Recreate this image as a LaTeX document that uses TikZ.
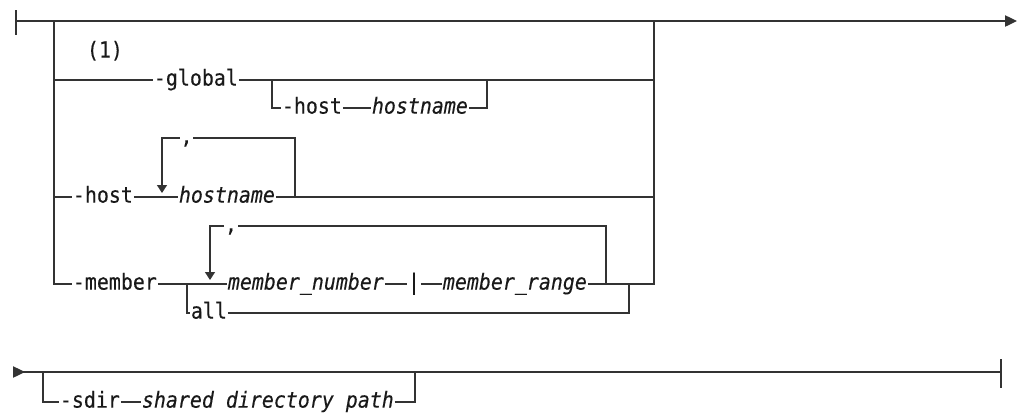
\documentclass[tikz,border=0pt]{standalone}
\usepackage{fontspec}
\usepackage{tikz}
\usetikzlibrary{arrows.meta, calc}
\newfontfamily\railfont[FakeBold=0.25, FakeStretch=0.9]{DejaVu Sans Mono}

\begin{document}
\begin{tikzpicture}[
    x=0.75pt, y=-0.75pt,
    rail/.style={line width=0.95pt, draw=black!80},
    txt/.style={inner xsep=0.5pt, inner ysep=0pt, anchor=west, text height=12.2pt, text depth=3.8pt, text=black!90, font=\railfont\fontsize{16.6}{19}\selectfont},
    kw/.style={txt},
    var/.style={txt, font=\railfont\itshape\fontsize{16.6}{19}\selectfont},
    sep/.style={txt, anchor=center},
    endarrow/.style={rail, -{Triangle[length=9pt, width=8.5pt]}},
    looparrow/.style={rail, -{Triangle[length=6pt, width=7.5pt]}},
    startarrow/.style={rail, {Triangle[reversed, length=9pt, width=8.5pt]}-},
]
\useasboundingbox (0,0) rectangle (1019,415);

% First line
\coordinate (start) at (16,21);
\coordinate (top) at (1017,21);
\coordinate (lTop) at (54,21);
\coordinate (rTop) at (654,21);

% Note
\node[kw] (note) at (86,52) {(1)};

% -global row
\coordinate (lGlobal) at (54,80);
\node[kw] (global) at (153,80) {-global};
\coordinate (gSplit) at (272,80);
\coordinate (gJoin) at (487,80);
\coordinate (rGlobal) at (654,80);
\node[kw] (gHost) at (281,108) {-host};
\node[var] (gHostname) at (371,108) {hostname};

% -host row
\coordinate (lHost) at (54,197);
\node[kw] (host) at (72,197) {-host};
\node[var] (hostname) at (178,197) {hostname};
\coordinate (hLoop) at (295,197);
\coordinate (hArrow) at (162,193);
\node[sep] (hComma) at (186.5,138) {,};
\coordinate (rHost) at (654,197);

% -member row
\node[kw] (member) at (72,284) {-member};
\coordinate (mSplit) at (187,284);
\node[var] (mNumber) at (227,284) {member\_number};
\node[kw] (mBar) at (407,284) {|};
\node[var] (mRange) at (442,284) {member\_range};
\coordinate (mLoop) at (606,284);
\coordinate (mJoin) at (629,284);
\coordinate (mArrow) at (210,280);
\node[sep] (mComma) at (231,226) {,};
\node[kw] (all) at (190,313) {all};

% Second line
\coordinate (start2) at (13,372);
\coordinate (end2) at (1001,372);
\coordinate (sSplit) at (43,372);
\coordinate (sJoin) at (415,372);
\node[kw] (sdir) at (59,402) {-sdir};
\node[var] (sPath) at (141,402) {shared directory path};

% --- Lines ---
\draw[rail] ($(start)+(0,-11)$) -- ($(start)+(0,14)$);
\draw[endarrow] (start) -- (top);

% -global
\draw[rail] (lGlobal) -- (global);
\draw[rail] (global) -- (rGlobal);
\draw[rail] (gSplit) |- (gHost);
\draw[rail] (gHost) -- (gHostname);
\draw[rail] (gHostname) -| (gJoin);

% -host
\draw[rail] (lHost) -- (host);
\draw[rail] (host) -- (hostname);
\draw[rail] (hostname) -- (rHost);
\draw[rail] (hLoop) |- (hComma);
\draw[looparrow] (hComma) -| (hArrow);

% -member
\draw[rail] (lTop) |- (member);
\draw[rail] (member) -- (mNumber);
\draw[rail] (mNumber) -- (mBar);
\draw[rail] (mBar) -- (mRange);
\draw[rail] (mRange) -| (rTop);
\draw[rail] (mLoop) |- (mComma);
\draw[looparrow] (mComma) -| (mArrow);
\draw[rail] (mSplit) |- (all);
\draw[rail] (all) -| (mJoin);

% -sdir
\draw[startarrow] (start2) -- (end2);
\draw[rail] ($(end2)+(0,-13)$) -- ($(end2)+(0,16)$);
\draw[rail] (sSplit) |- (sdir);
\draw[rail] (sdir) -- (sPath);
\draw[rail] (sPath) -| (sJoin);

\end{tikzpicture}
\end{document}
